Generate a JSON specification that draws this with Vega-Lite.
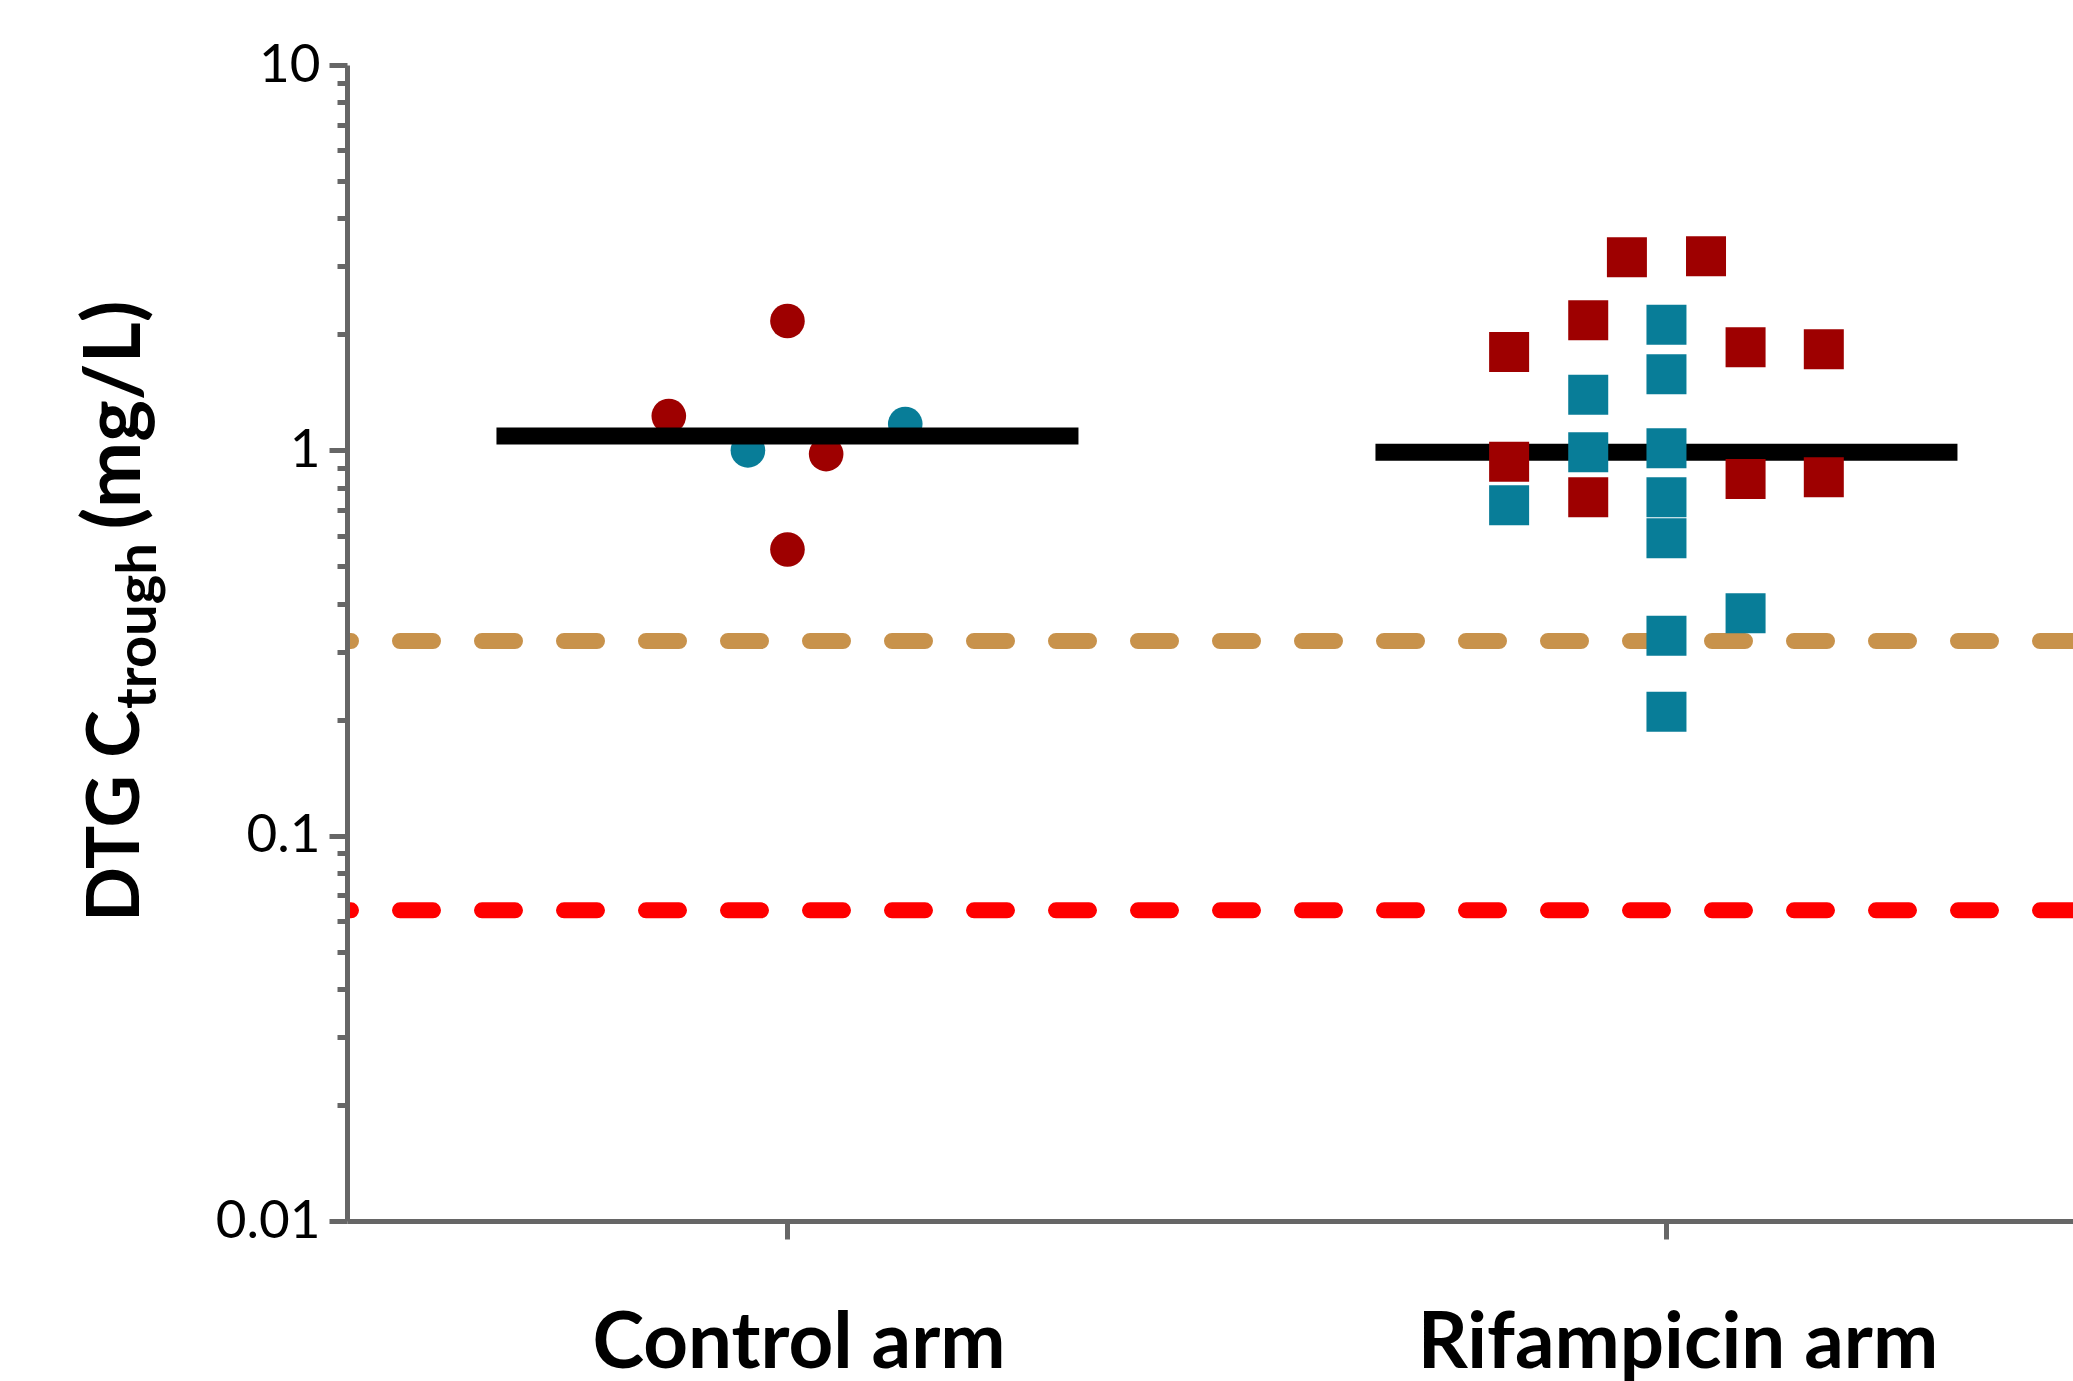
{
  "$schema": "https://vega.github.io/schema/vega-lite/v6.json",
  "width": 1726,
  "height": 1156,
  "autosize": {"type": "none"},
  "padding": {"left": 347, "top": 65, "right": 0, "bottom": 160},
  "background": "white",
  "config": {"view": {"stroke": null}, "font": "Lato"},
  "datasets": {
    "points": [
      {"arm": "Control arm", "group": "A", "pos": 0.865, "ctrough": 1.227},
      {"arm": "Control arm", "group": "B", "pos": 0.955, "ctrough": 1.0},
      {"arm": "Control arm", "group": "A", "pos": 1.0, "ctrough": 2.166},
      {"arm": "Control arm", "group": "A", "pos": 1.0, "ctrough": 0.553},
      {"arm": "Control arm", "group": "A", "pos": 1.044, "ctrough": 0.978},
      {"arm": "Control arm", "group": "B", "pos": 1.134, "ctrough": 1.17},
      {"arm": "Rifampicin arm", "group": "A", "pos": 1.821, "ctrough": 1.799},
      {"arm": "Rifampicin arm", "group": "A", "pos": 1.821, "ctrough": 0.934},
      {"arm": "Rifampicin arm", "group": "B", "pos": 1.821, "ctrough": 0.72},
      {"arm": "Rifampicin arm", "group": "A", "pos": 1.911, "ctrough": 2.175},
      {"arm": "Rifampicin arm", "group": "B", "pos": 1.911, "ctrough": 1.394},
      {"arm": "Rifampicin arm", "group": "B", "pos": 1.911, "ctrough": 0.988},
      {"arm": "Rifampicin arm", "group": "A", "pos": 1.911, "ctrough": 0.755},
      {"arm": "Rifampicin arm", "group": "A", "pos": 1.955, "ctrough": 3.169},
      {"arm": "Rifampicin arm", "group": "B", "pos": 2.0, "ctrough": 2.118},
      {"arm": "Rifampicin arm", "group": "B", "pos": 2.0, "ctrough": 1.575},
      {"arm": "Rifampicin arm", "group": "B", "pos": 2.0, "ctrough": 1.012},
      {"arm": "Rifampicin arm", "group": "B", "pos": 2.0, "ctrough": 0.755},
      {"arm": "Rifampicin arm", "group": "B", "pos": 2.0, "ctrough": 0.591},
      {"arm": "Rifampicin arm", "group": "B", "pos": 2.0, "ctrough": 0.33},
      {"arm": "Rifampicin arm", "group": "B", "pos": 2.0, "ctrough": 0.2097},
      {"arm": "Rifampicin arm", "group": "A", "pos": 2.045, "ctrough": 3.188},
      {"arm": "Rifampicin arm", "group": "A", "pos": 2.09, "ctrough": 1.851},
      {"arm": "Rifampicin arm", "group": "A", "pos": 2.09, "ctrough": 0.842},
      {"arm": "Rifampicin arm", "group": "B", "pos": 2.09, "ctrough": 0.378},
      {"arm": "Rifampicin arm", "group": "A", "pos": 2.179, "ctrough": 1.829},
      {"arm": "Rifampicin arm", "group": "A", "pos": 2.179, "ctrough": 0.851}
    ],
    "means": [
      {"arm": "Control arm", "pos": 1, "geomean": 1.089},
      {"arm": "Rifampicin arm", "pos": 2, "geomean": 0.988}
    ],
    "refs": [
      {"ref": "upper", "conc": 0.32},
      {"ref": "PA-IC90", "conc": 0.064}
    ],
    "one": [{}]
  },
  "layer": [
    {
      "data": {"name": "refs"},
      "transform": [{"filter": "datum.ref === 'upper'"}],
      "mark": {"type": "rule", "strokeWidth": 16, "strokeDash": [33, 49], "strokeCap": "round", "color": "#c8924b", "clip": true},
      "encoding": {
        "y": {
          "field": "conc",
          "type": "quantitative",
          "scale": {"type": "log", "domain": [0.01, 10], "nice": false},
          "axis": {
            "title": null,
            "values": [0.01, 0.02, 0.03, 0.04, 0.05, 0.06, 0.07, 0.08, 0.09, 0.1, 0.2, 0.3, 0.4, 0.5, 0.6, 0.7, 0.8, 0.9, 1, 2, 3, 4, 5, 6, 7, 8, 9, 10],
            "labelExpr": "abs(log(datum.value)/LN10 - round(log(datum.value)/LN10)) < 0.001 ? format(datum.value, '~g') : ''",
            "tickSize": {"condition": {"test": "abs(log(datum.value)/LN10 - round(log(datum.value)/LN10)) < 0.001", "value": 18}, "value": 10},
            "tickWidth": 5,
            "tickColor": "#666666",
            "domainColor": "#666666",
            "domainWidth": 5,
            "labelFont": "Lato",
            "labelFontSize": 53,
            "labelColor": "black",
            "labelPadding": 9,
            "labelOverlap": false,
            "labelFlush": false,
            "labelBound": false,
            "labelLimit": 1000,
            "grid": false,
            "zindex": 1
          }
        }
      }
    },
    {
      "data": {"name": "refs"},
      "transform": [{"filter": "datum.ref === 'PA-IC90'"}],
      "mark": {"type": "rule", "strokeWidth": 16, "strokeDash": [33, 49], "strokeCap": "round", "color": "#ff0000", "clip": true},
      "encoding": {"y": {"field": "conc", "type": "quantitative"}}
    },
    {
      "data": {"name": "points"},
      "transform": [{"filter": "datum.arm === 'Control arm'"}],
      "mark": {"type": "circle", "size": 1200, "opacity": 1},
      "encoding": {
        "x": {
          "field": "pos",
          "type": "quantitative",
          "scale": {"domain": [0.4989, 2.4625], "nice": false, "zero": false},
          "axis": {
            "title": null,
            "values": [1, 2],
            "labelExpr": "datum.value == 1 ? 'Control arm' : 'Rifampicin arm'",
            "tickSize": 18,
            "tickWidth": 5,
            "tickColor": "#666666",
            "domainColor": "#666666",
            "domainWidth": 5,
            "labelFont": "Lato",
            "labelFontSize": 78,
            "labelFontWeight": "bold",
            "labelColor": "black",
            "labelPadding": 66,
            "labelOffset": 11,
            "labelOverlap": false,
            "labelFlush": false,
            "labelBound": false,
            "labelLimit": 2000,
            "grid": false,
            "zindex": 1
          }
        },
        "y": {"field": "ctrough", "type": "quantitative"},
        "color": {"field": "group", "type": "nominal", "scale": {"domain": ["A", "B"], "range": ["#9e0000", "#087d98"]}, "legend": null}
      }
    },
    {
      "data": {"name": "means"},
      "mark": {"type": "rule", "strokeWidth": 17, "color": "black", "xOffset": -291, "x2Offset": 291},
      "encoding": {
        "x": {"field": "pos", "type": "quantitative"},
        "x2": {"field": "pos"},
        "y": {"field": "geomean", "type": "quantitative"}
      }
    },
    {
      "data": {"name": "points"},
      "transform": [{"filter": "datum.arm === 'Rifampicin arm'"}],
      "mark": {"type": "square", "size": 1600, "opacity": 1},
      "encoding": {
        "x": {"field": "pos", "type": "quantitative"},
        "y": {"field": "ctrough", "type": "quantitative"},
        "color": {"field": "group", "type": "nominal", "legend": null}
      }
    },
    {
      "data": {"name": "one"},
      "mark": {"type": "text", "text": "DTG C", "angle": 270, "align": "center", "baseline": "alphabetic", "font": "Lato", "fontWeight": "bold", "fontSize": 72, "color": "black"},
      "encoding": {"x": {"datum": 0.2623, "type": "quantitative"}, "y": {"datum": 0.1125, "type": "quantitative"}}
    },
    {
      "data": {"name": "one"},
      "mark": {"type": "text", "text": "trough", "angle": 270, "align": "center", "baseline": "alphabetic", "font": "Lato", "fontWeight": "bold", "fontSize": 56, "color": "black"},
      "encoding": {"x": {"datum": 0.2816, "type": "quantitative"}, "y": {"datum": 0.3498, "type": "quantitative"}}
    },
    {
      "data": {"name": "one"},
      "mark": {"type": "text", "text": "(mg/L)", "angle": 270, "align": "center", "baseline": "alphabetic", "font": "Lato", "fontWeight": "bold", "fontSize": 79, "color": "black"},
      "encoding": {"x": {"datum": 0.2635, "type": "quantitative"}, "y": {"datum": 1.235, "type": "quantitative"}}
    }
  ]
}
